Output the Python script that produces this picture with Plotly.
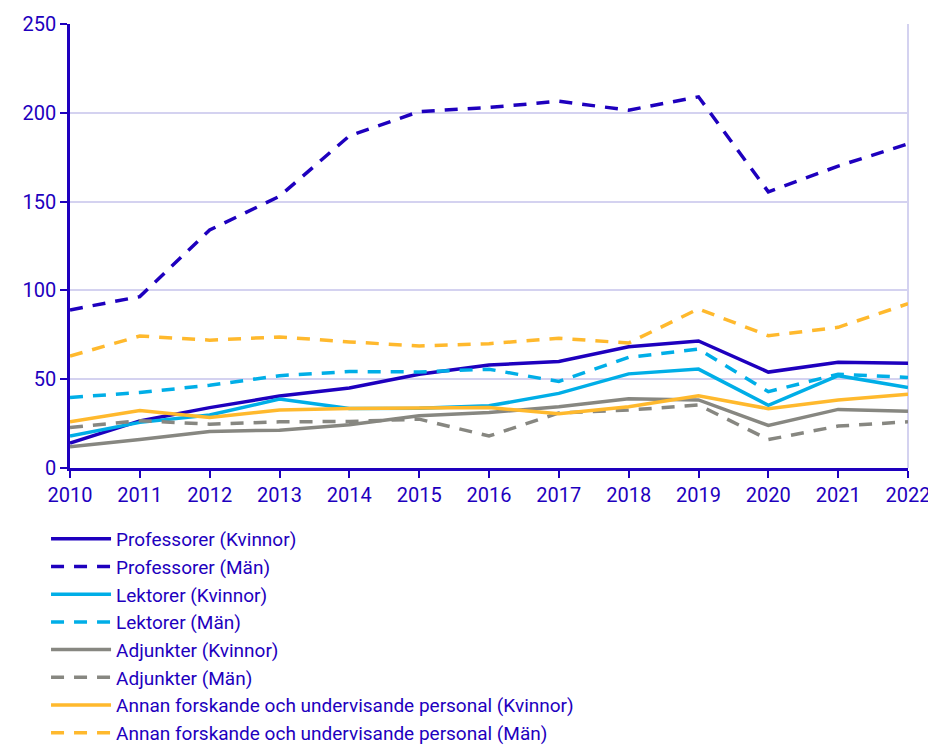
import plotly.graph_objects as go

years = list(range(2010, 2023))

prof_k = [14, 26.5, 34, 40.5, 45, 52.8, 58, 60, 68.3, 71.5, 54, 59.5, 59]
prof_m = [89, 96.5, 134, 153, 187, 200.7, 203, 206.5, 201.5, 209, 155.5, 170, 182.5]
lekt_k = [18, 25.7, 29.8, 38.8, 33.5, 33.7, 35, 42, 53, 55.7, 35.3, 52, 45.3]
lekt_m = [39.7, 42.5, 46.6, 52, 54.3, 54.1, 55.6, 48.7, 62.3, 67, 43, 52.8, 51]
adj_k = [12, 16, 20.6, 21.3, 24.3, 29.4, 31.2, 34.5, 39, 38.3, 24, 33, 32]
adj_m = [22.8, 26.6, 24.7, 26, 26.2, 27.5, 18, 31, 32.6, 35.5, 16, 23.6, 26]
annan_k = [26, 32.4, 28.5, 32.6, 33.5, 33.7, 34, 30.6, 34.5, 40.6, 33.4, 38.3, 41.5]
annan_m = [63, 74.3, 72, 73.8, 71, 68.7, 70, 73, 70.4, 89.6, 74.5, 79.2, 92.5]

names = [
    "Professorer (Kvinnor)", "Professorer (Män)",
    "Lektorer (Kvinnor)", "Lektorer (Män)",
    "Adjunkter (Kvinnor)", "Adjunkter (Män)",
    "Annan forskande och undervisande personal (Kvinnor)",
    "Annan forskande och undervisande personal (Män)",
]
series = [prof_k, prof_m, lekt_k, lekt_m, adj_k, adj_m, annan_k, annan_m]
colors = ["#1e00be", "#1e00be", "#00aee7", "#00aee7", "#878781", "#878781", "#ffb92d", "#ffb92d"]
dashes = ["solid", "13px,10px"] * 4

fig = go.Figure()
for i, (n, s) in enumerate(zip(names, series)):
    fig.add_trace(go.Scatter(
        x=years, y=s, name=n, mode="lines",
        line=dict(color=colors[i], width=3.5, dash=dashes[i]),
    ))

txt = "#1e00be"
# page body has an 8px default margin, so the figure is sized to fill the rest
fig.update_layout(
    template="none",
    width=928, height=737,
    margin=dict(l=62, r=28, t=16, b=277, pad=0, autoexpand=False),
    paper_bgcolor="white", plot_bgcolor="white",
    font=dict(family="Roboto", size=20, color=txt),
    showlegend=True,
    legend=dict(
        orientation="v",
        x=-0.0286, xanchor="left", y=-0.117, yanchor="top",
        font=dict(family="Roboto", size=19, color=txt),
        itemwidth=60, borderwidth=0,
        bgcolor="rgba(0,0,0,0)",
    ),
    xaxis=dict(
        range=[2010, 2022], tickmode="array", tickvals=years,
        ticktext=[str(y) for y in years], automargin=False,
        showline=True, linecolor=txt, linewidth=2.5,
        ticks="outside", tickcolor=txt, ticklen=7, tickwidth=2,
        showgrid=False, zeroline=False,
        tickfont=dict(family="Roboto", size=20, color=txt),
    ),
    yaxis=dict(
        range=[0, 250], tickvals=[0, 50, 100, 150, 200, 250], automargin=False,
        showline=True, linecolor=txt, linewidth=2.5,
        ticks="outside", tickcolor=txt, ticklen=7, tickwidth=2,
        showgrid=True, gridcolor="#d4d2f0", gridwidth=2,
        zeroline=False, tickfont=dict(family="Roboto", size=20, color=txt),
    ),
)
fig.add_shape(type="line", xref="paper", yref="paper", x0=1, x1=1, y0=0, y1=1,
              line=dict(color="#d4d2f0", width=2), layer="below")

fig.write_html("out.html")
